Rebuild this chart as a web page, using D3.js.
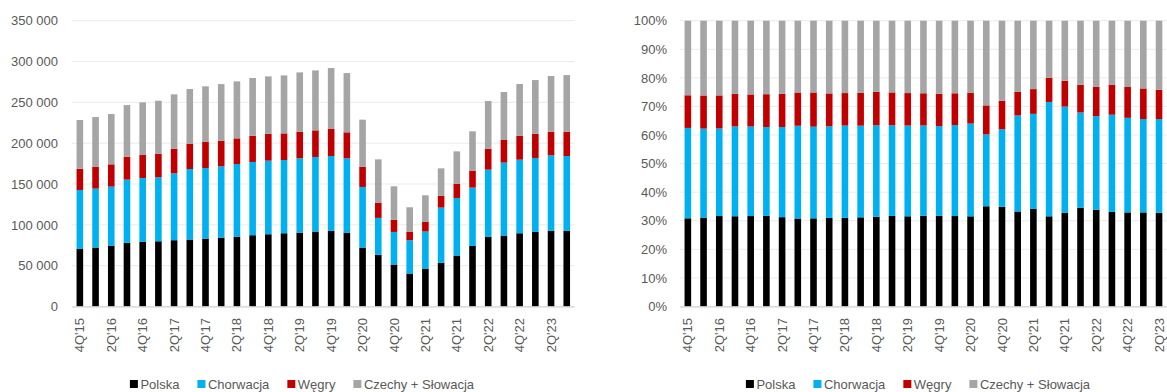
<!DOCTYPE html>
<html>
<head>
<meta charset="utf-8">
<script src="https://cdn.jsdelivr.net/npm/d3@7"></script>
<style>
  html, body { margin: 0; padding: 0; background: #fff; }
  svg { display: block; font-family: "Liberation Sans", Arial, sans-serif; }
</style>
</head>
<body>
<svg id="chart" width="1167" height="392"></svg>
<script>
// Quarterly categories, 4Q'15 – 3Q'23
const quarters = [
  "4Q'15","1Q'16","2Q'16","3Q'16","4Q'16","1Q'17","2Q'17","3Q'17",
  "4Q'17","1Q'18","2Q'18","3Q'18","4Q'18","1Q'19","2Q'19","3Q'19",
  "4Q'19","1Q'20","2Q'20","3Q'20","4Q'20","1Q'21","2Q'21","3Q'21",
  "4Q'21","1Q'22","2Q'22","3Q'22","4Q'22","1Q'23","2Q'23","3Q'23"
];
// Every second quarter is labelled on the axis
const tickLabels = [
  "4Q'15","2Q'16","4Q'16","2Q'17","4Q'17","2Q'18","4Q'18","2Q'19",
  "4Q'19","2Q'20","4Q'20","2Q'21","4Q'21","2Q'22","4Q'22","2Q'23"
];

const seriesNames = ["Polska", "Chorwacja", "Węgry", "Czechy + Słowacja"];

const polska = [
  70500, 72200, 74600, 77900, 79100, 79900, 81200, 82000,
  83200, 84400, 85600, 87300, 88500, 89700, 90500, 91800,
  92600, 90500, 72200, 63200, 51400, 40400, 46500, 53400,
  62400, 74200, 85200, 86900, 89700, 91300, 92600, 92600
];
const chorwacja = [
  72200, 72200, 72200, 77500, 78300, 78300, 81900, 86400,
  86400, 87300, 88900, 89700, 90100, 89700, 91000, 91300,
  91700, 91000, 74200, 45300, 39900, 40800, 45300, 67700,
  70500, 71400, 82400, 89300, 90100, 90600, 92500, 91700
];
const wegry = [
  26100, 26900, 27300, 28100, 28100, 29000, 30200, 31000,
  32300, 31400, 31400, 32200, 33000, 32600, 32600, 32600,
  33100, 31800, 24500, 18300, 14700, 10100, 11800, 14300,
  17200, 20800, 25700, 27700, 29400, 29700, 29000, 29800
];
const czechySlowacja = [
  59600, 60700, 61600, 63200, 64500, 64800, 66500, 66900,
  67700, 69300, 69800, 70600, 70200, 71000, 72600, 73400,
  74600, 72600, 57900, 53400, 41200, 30200, 32600, 33800,
  39900, 48100, 58300, 58700, 63200, 65700, 68100, 69300
];

const absTicks = [0, 50000, 100000, 150000, 200000, 250000, 300000, 350000];
const pctTicks = [0, 0.1, 0.2, 0.3, 0.4, 0.5, 0.6, 0.7, 0.8, 0.9, 1];

const colors = ["#000000", "#00B0F0", "#C00000", "#A5A5A5"];
const keys = ["polska", "chorwacja", "wegry", "czechy"];

// Table for the stack layout
const rows = quarters.map((q, i) => ({
  q,
  polska: polska[i],
  chorwacja: chorwacja[i],
  wegry: wegry[i],
  czechy: czechySlowacja[i]
}));

const svg = d3.select("#chart");
const textColor = "#595959";
const gridColor = "#EBEBEB";
const axisColor = "#D0D0D0";

const fmtSpace = d3.formatLocale({ decimal: ",", thousands: " ", grouping: [3], currency: ["", ""] }).format(",d");
const fmtPct = d3.format(".0%");

function drawPanel(opts) {
  const g = svg.append("g");
  const x = d3.scaleBand().domain(quarters).range([opts.x0, opts.x1]).paddingInner(0.58).paddingOuter(0.29);
  const y = d3.scaleLinear().domain(opts.domain).range([306.5, 20.7]);

  // horizontal gridlines
  g.append("g").selectAll("line").data(opts.ticks.slice(1)).join("line")
    .attr("x1", opts.x0).attr("x2", opts.x1)
    .attr("y1", d => y(d)).attr("y2", d => y(d))
    .attr("stroke", gridColor).attr("stroke-width", 1);

  // y axis labels
  const yAxis = d3.axisLeft(y).tickValues(opts.ticks).tickFormat(opts.fmt).tickSize(0).tickPadding(0);
  const ya = g.append("g").attr("transform", `translate(${opts.labelRight},0)`).call(yAxis);
  ya.select(".domain").remove();
  ya.selectAll("text").attr("fill", textColor).style("font-size", "13px")
    .style("font-family", "'Liberation Sans', Arial, sans-serif");

  // stacked bars
  const stacked = opts.stack(rows);
  g.append("g").selectAll("g").data(stacked).join("g")
    .attr("fill", (d, i) => colors[i])
    .selectAll("rect").data(d => d).join("rect")
    .attr("x", d => x(d.data.q))
    .attr("width", x.bandwidth())
    .attr("y", d => y(d[1]))
    .attr("height", d => Math.max(0, y(d[0]) - y(d[1])));

  // baseline
  g.append("line").attr("x1", opts.x0).attr("x2", opts.x1)
    .attr("y1", 306.8).attr("y2", 306.8)
    .attr("stroke", axisColor).attr("stroke-width", 1.3);

  // x axis labels, rotated
  const xAxis = d3.axisBottom(x).tickValues(tickLabels).tickSize(0).tickPadding(0);
  const xa = g.append("g").attr("transform", "translate(0,318)").call(xAxis);
  xa.select(".domain").remove();
  xa.selectAll("text")
    .attr("fill", textColor).style("font-size", "13px")
    .style("font-family", "'Liberation Sans', Arial, sans-serif")
    .attr("transform", "rotate(-90)")
    .attr("text-anchor", "end")
    .attr("x", 0).attr("y", 0).attr("dy", "0.35em");

  // legend
  const lg = g.append("g");
  let cx = 0;
  seriesNames.forEach((name, i) => {
    const item = lg.append("g").attr("transform", `translate(${cx},0)`);
    item.append("rect").attr("x", 0).attr("y", -4).attr("width", 8).attr("height", 8).attr("fill", colors[i]);
    const t = item.append("text").attr("x", 10.5).attr("y", 0).attr("dy", "0.35em")
      .attr("fill", textColor).style("font-size", "13px").text(name);
    cx += 10.5 + t.node().getComputedTextLength() + 18;
  });
  const total = cx - 18;
  lg.attr("transform", `translate(${opts.legendCenter - total / 2},384)`);
}

const stackAbs = d3.stack().keys(keys);
const stackPct = d3.stack().keys(keys).offset(d3.stackOffsetExpand);

drawPanel({ x0: 72, x1: 574.6, domain: [0, 350000], ticks: absTicks, fmt: fmtSpace,
  stack: stackAbs, labelRight: 58, legendCenter: 302 });
drawPanel({ x0: 680, x1: 1182.6, domain: [0, 1], ticks: pctTicks, fmt: fmtPct,
  stack: stackPct, labelRight: 667, legendCenter: 918 });
</script>
</body>
</html>
